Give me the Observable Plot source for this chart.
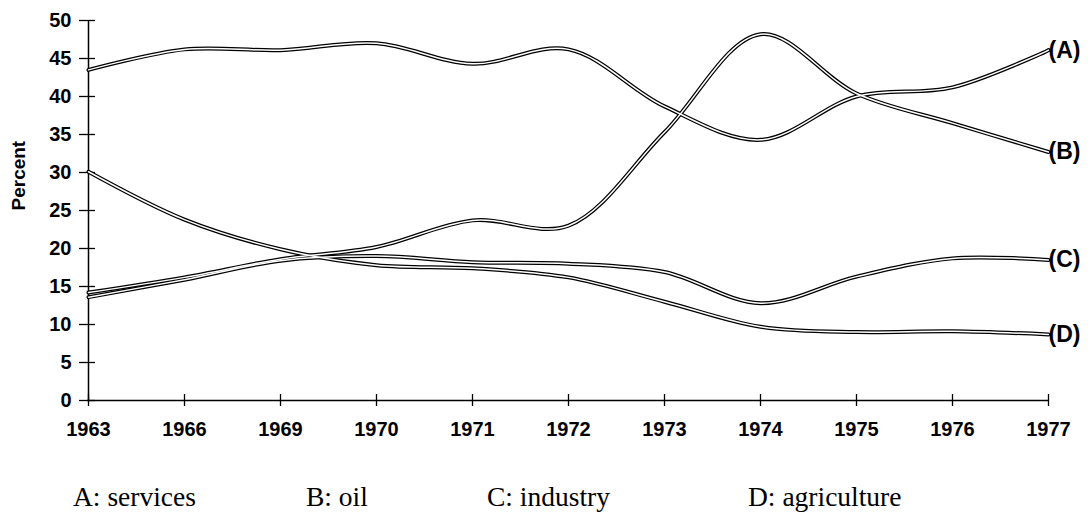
<!DOCTYPE html>
<html>
<head>
<meta charset="utf-8">
<script src="https://cdn.jsdelivr.net/npm/d3@7"></script>
<script src="https://cdn.jsdelivr.net/npm/@observablehq/plot@0.6"></script>
<style>
  html, body { margin: 0; padding: 0; background: #fff; }
  #chart svg text { font-weight: bold; }
  #legend { position: relative; width: 1090px; height: 82px; font-family: "Liberation Serif", "Times New Roman", serif; font-size: 27.5px; color: #000; }
  #legend span { position: absolute; top: 36px; white-space: nowrap; line-height: 1.15; }
</style>
</head>
<body>
<div id="chart"></div>
<div id="legend"></div>
<script>
const years = ["1963","1966","1969","1970","1971","1972","1973","1974","1975","1976","1977"];
const seriesA = [43.5, 46.2, 46.1, 47.0, 44.3, 46.2, 38.7, 34.3, 40.0, 41.2, 46.1]; // services
const seriesB = [14.2, 16.2, 18.6, 20.2, 23.7, 23.0, 35.3, 48.2, 40.4, 36.5, 32.7]; // oil
const seriesC = [13.6, 15.9, 18.4, 19.0, 18.2, 18.0, 16.9, 12.8, 16.3, 18.7, 18.5]; // industry
const seriesD = [30.1, 23.8, 19.9, 17.8, 17.4, 16.2, 13.0,  9.7,  9.0,  9.1,  8.7]; // agriculture
const seriesKeys = ["A", "B", "C", "D"];
const endLabels = ["(A)", "(B)", "(C)", "(D)"];
const legendLabels = ["A: services", "B: oil", "C: industry", "D: agriculture"];
const yTicks = [0, 5, 10, 15, 20, 25, 30, 35, 40, 45, 50];

const allSeries = [seriesA, seriesB, seriesC, seriesD];
const rows = [];
allSeries.forEach((vals, i) => vals.forEach((v, j) => rows.push({series: seriesKeys[i], year: years[j], value: v})));
const ends = allSeries.map((vals, i) => ({label: endLabels[i], year: years[years.length - 1], value: vals[vals.length - 1]}));

const W = 1090, H = 445, mL = 87, mR = 42, mT = 20, mB = 45;
const plotW = W - mL - mR, plotH = H - mT - mB;

const chart = Plot.plot({
  width: W, height: H,
  marginLeft: mL, marginRight: mR, marginTop: mT, marginBottom: mB,
  style: {fontFamily: "'Liberation Sans', Arial, sans-serif", background: "#fff", color: "#000"},
  x: {type: "point", domain: years, padding: 0},
  y: {domain: [0, 50]},
  marks: [
    Plot.axisY({ticks: yTicks, tickSize: 0, tickPadding: 16, fontSize: 20, label: null}),
    Plot.axisX({tickSize: 0, tickPadding: 21, fontSize: 20, label: null}),
    Plot.ruleX([years[0]], {stroke: "#000", strokeWidth: 1.5}),
    Plot.ruleY([0], {stroke: "#000", strokeWidth: 1.5}),
    Plot.ruleY(yTicks, {y: d => d, insetRight: plotW - 16, dx: -8, stroke: "#000", strokeWidth: 1.3}),
    Plot.ruleX(years, {x: d => d, insetTop: plotH - 12, dy: 6, stroke: "#000", strokeWidth: 1.3}),
    Plot.line(rows, {x: "year", y: "value", z: "series", curve: "catmull-rom", stroke: "#000", strokeWidth: 4}),
    Plot.line(rows, {x: "year", y: "value", z: "series", curve: "catmull-rom", stroke: "#fff", strokeWidth: 1.5}),
    Plot.text(ends, {x: "year", y: "value", text: "label", textAnchor: "start", dx: 0, fontSize: 23, fill: "#000"}),
    Plot.text(["Percent"], {frameAnchor: "left", rotate: -90, dx: -69, fontSize: 19, fill: "#000"})
  ]
});
document.getElementById("chart").appendChild(chart);

const legendLefts = [73, 306, 487, 748];
const leg = document.getElementById("legend");
legendLabels.forEach((t, i) => {
  const s = document.createElement("span");
  s.textContent = t;
  s.style.left = legendLefts[i] + "px";
  leg.appendChild(s);
});
</script>
</body>
</html>
